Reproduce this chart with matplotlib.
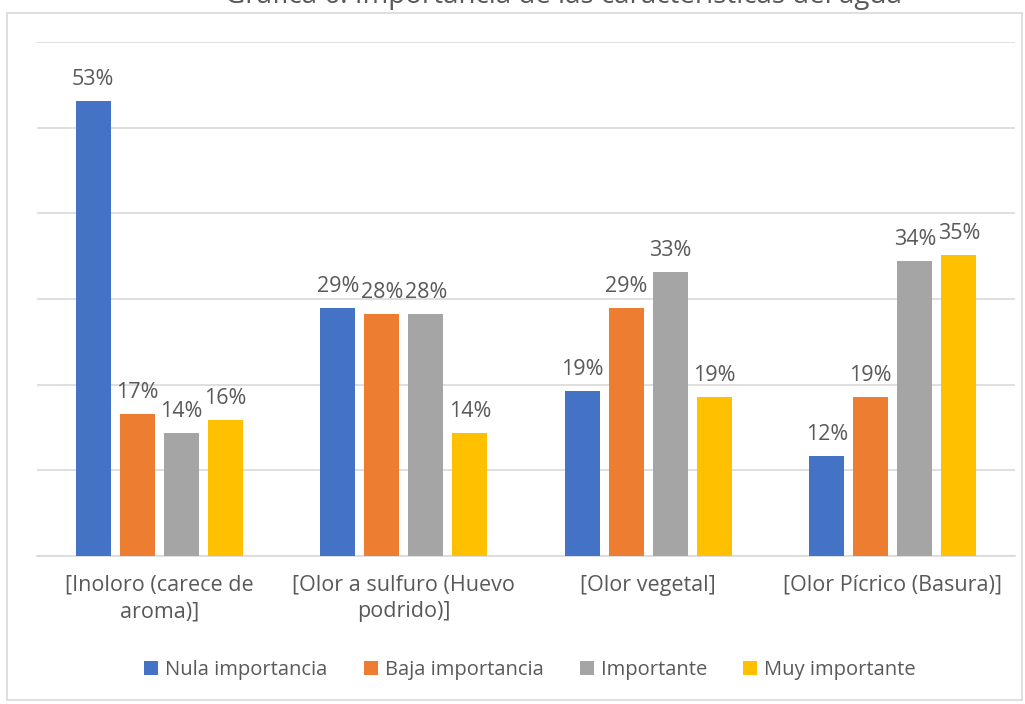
import numpy as np
import matplotlib.pyplot as plt
from matplotlib.patches import Rectangle

plt.rcParams['font.family'] = ['Open Sans', 'DejaVu Sans']

# data
categories = ['[Inoloro (carece de\naroma)]', '[Olor a sulfuro (Huevo\npodrido)]',
              '[Olor vegetal]', '[Olor Pícrico (Basura)]']
series = ['Nula importancia', 'Baja importancia', 'Importante', 'Muy importante']
nula = [53.1, 28.9, 19.3, 11.7]
baja = [16.6, 28.2, 28.9, 18.6]
importante = [14.4, 28.2, 33.1, 34.4]
muy = [15.9, 14.4, 18.6, 35.1]
colors = ['#4472C4', '#ED7D31', '#A5A5A5', '#FFC000']
txt = '#595959'

fig = plt.figure(figsize=(10.25, 7.04), dpi=100)
ax = fig.add_axes([37/1025, 1 - 556/704, (1015-37)/1025, (556-42)/704])

x = np.arange(len(categories))
w = 0.143
pitch = 0.18
for i, (vals, name) in enumerate(zip([nula, baja, importante, muy], series)):
    xs = x + (i - 1.5) * pitch
    bars = ax.bar(xs, vals, w, color=colors[i], label=name, zorder=3)
    for b, v in zip(bars, vals):
        ax.text(b.get_x() + b.get_width()/2, v + 1.3, f'{v:.0f}%', ha='center', va='bottom',
                fontsize=15.5, color=txt)

ax.set_xlim(-0.5, 3.5)
ax.set_ylim(0, 60)
ax.set_yticks(np.arange(0, 61, 10))
ax.yaxis.grid(True, color='#d9d9d9', linewidth=1.2, zorder=0)
ax.tick_params(left=False, labelleft=False, bottom=False)
ax.set_xticks(x)
ax.set_xticklabels(categories, fontsize=15.5, color=txt, linespacing=1.35)
ax.tick_params(axis='x', pad=10)
for s in ['top', 'right', 'left']:
    ax.spines[s].set_visible(False)
ax.spines['bottom'].set_color('#d9d9d9')
ax.spines['bottom'].set_linewidth(1.2)

leg = fig.legend(loc='center', bbox_to_anchor=(530/1025, 1 - 670/704), ncol=4, frameon=False,
                 fontsize=14.5, handlelength=0.7, handleheight=0.7, handletextpad=0.35, columnspacing=1.8)
for t in leg.get_texts():
    t.set_color(txt)

# chart border
fig.patches.append(Rectangle((7/1025, 1 - 700/704), 1015/1025, 687/704, transform=fig.transFigure,
                             fill=False, edgecolor='#d9d9d9', linewidth=1.2))

# title is clipped at the top edge, as in the original
fig.text(0.55, 1 - 3/704, 'Gráfica 6. Importancia de las características del agua',
         ha='center', va='baseline', fontsize=20, color=txt)

fig.savefig('out.png', dpi=100)
